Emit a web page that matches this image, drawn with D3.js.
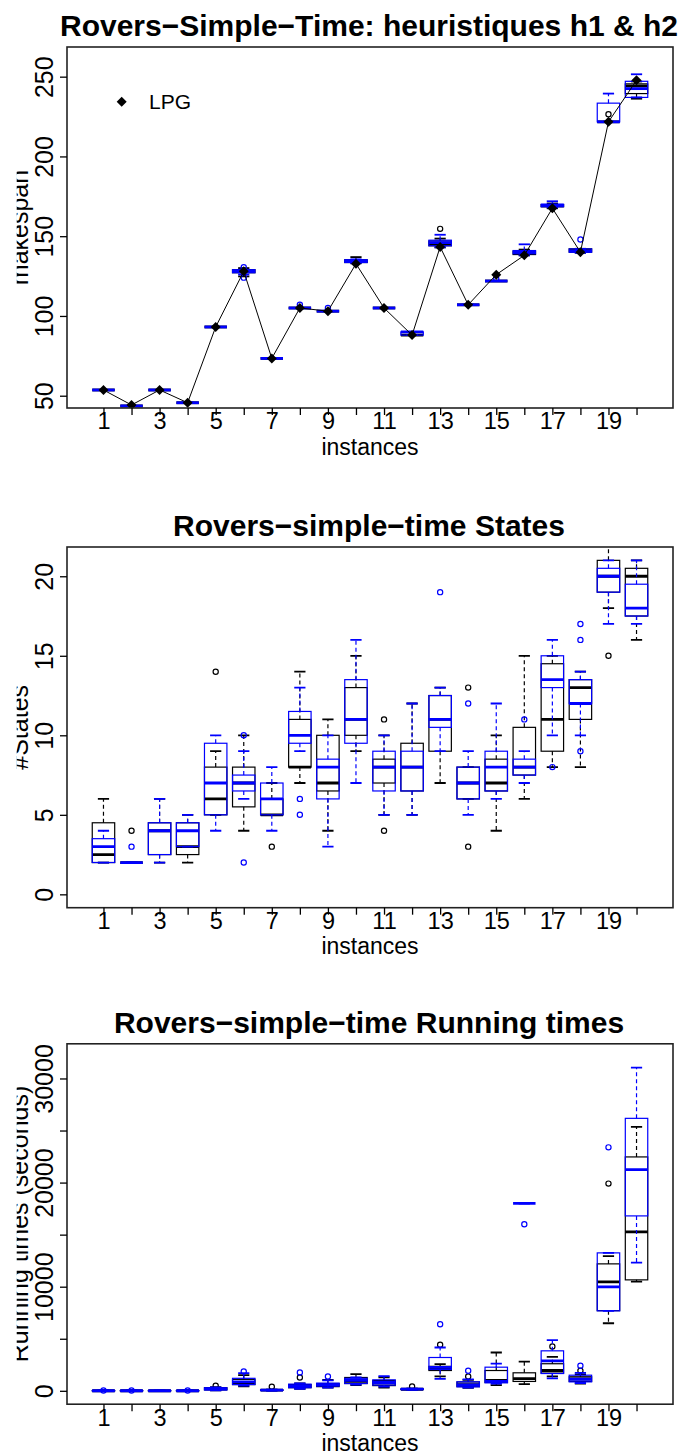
<!DOCTYPE html>
<html><head><meta charset="utf-8">
<script src="https://cdn.jsdelivr.net/npm/d3@7"></script>
<style>
body{margin:0;background:#fff}
svg{display:block}
text{font-family:"Liberation Sans",Arial,Helvetica,sans-serif}
</style>
</head><body>
<svg id="chart" width="682" height="1456"></svg>
<script>
// ---------------- DATA ----------------
const instances = [1,2,3,4,5,6,7,8,9,10,11,12,13,14,15,16,17,18,19,20];
const xTickLabels = ["1","3","5","7","9","11","13","15","17","19"];

// Panel 1 : makespan  [min, q1, median, q3, max]
const makespanH1 = [
  [53.6,53.6,53.6,53.6,53.6],[43.6,43.6,43.6,43.6,43.6],[53.6,53.6,53.6,53.6,53.6],[45.6,45.6,45.6,45.6,45.6],
  [93.1,93.1,93.1,93.1,93.1],[124.8,127.1,128,129,130],[73.4,73.4,73.4,73.4,73.4],[105,105,105,105,105],
  [103,103,103,103,103],[133,133.5,134.5,135.2,136.9],[105,105,105,105,105],[88,88,88,88,88],
  [143,144,145,147,148.5],[107,107,107,107,107],[121.9,121.9,121.9,121.9,121.9],[138,138.5,139.5,140.6,141.6],
  [167.5,168.5,169,169.8,170.5],[139.6,140,141,142.1,142.1],[221.7,221.7,221.7,221.7,221.7],[236.2,239.4,244.2,245.5,247]
];
const makespanH1Out = [[],[],[],[],[],[],[],[],[],[],[],[],[154.6],[],[],[],[],[],[226.5],[]];
const makespanH2 = [
  [53.6,53.6,53.6,53.6,53.6],[43.6,43.6,43.6,43.6,43.6],[53.6,53.6,53.6,53.6,53.6],[45.6,45.6,45.6,45.6,45.6],
  [93.1,93.1,93.1,93.1,93.1],[126,127.1,128,129,129],[73.4,73.4,73.4,73.4,73.4],[105,105,105,105,105],
  [103,103,103,103,103],[133.1,133.5,134.5,135.2,135.5],[105,105,105,105,105],[88,88,90,90,90],
  [143,144,146,147.5,150.9],[107,107,107,107,107],[121.9,121.9,121.9,121.9,121.9],[138,139,140,141,144.9],
  [168,168.5,169.5,170,171.9],[139.6,140,140.5,142,142],[221.7,221.7,221.7,233.4,239.4],[237,237,242.5,247.1,251.5]
];
const makespanH2Out = [[],[],[],[],[],[130.6,124],[],[107],[105],[],[],[],[],[],[123.4],[],[],[147.9],[],[]];
const lpgMakespan = [53.6,44.2,53.6,45.6,93.1,128,73.4,105,103,132.7,105,88,143.3,107,125.9,138,167.5,140,221.7,247.7];
const makespanTicks = [50,100,150,200,250];

// Panel 2 : states
const statesH1 = [
  [2,2,2.5,4.5,6],[2,2,2,2,2],[2,2.5,4,4.5,6],[2,2.5,3,4.5,5],[5,5,6,8,9],[4,5.5,7,8,10],[5,5,5,6,7],
  [7,8,8,11,14],[4,6.5,7,10,11],[9,10,11,13,15],[5,7,8,8.5,10],[5,6.5,8,9.5,12],[7,9,11,12.5,13],
  [6,6,7,8,8],[4,6.5,7,8.5,10],[6,7.5,8,10.5,15],[8,9,11,14.5,15],[8,11,13,13.5,14],[18,19,20,21,22],[16,17.5,20,20.5,21]
];
const statesH1Out = [[],[4],[],[],[14],[],[3],[],[],[],[11,4],[],[],[13,3],[],[],[],[],[15],[]];
const statesH2 = [
  [2,2,3,3.5,4],[2,2,2,2,2],[2,2.5,4,4.5,6],[3,3,4,4.5,5],[4,5,7,9.5,10],[6,6.5,7,7.5,9],[4,5,6,7,8],
  [9,9.5,10,11.5,13],[3,6,8,8.5,10],[7,9.5,11,13.5,16],[5,6.5,8,9,10],[5,6.5,8,9,12],[9,10.5,11,12.5,13],
  [5,6,7,8,9],[6,6.5,8,9,12],[7,7.5,8,8.5,9],[10,13,13.5,15,16],[10,12,12,13.5,14],[17,19,20,20.5,21],[17,17.5,18,19.5,21]
];
const statesH2Out = [[],[3],[],[],[],[10,2],[],[6,5],[],[],[],[],[19],[12],[],[11],[8],[17,16,9],[],[]];
const statesTicks = [0,5,10,15,20];

// Panel 3 : running times (seconds)
const timesH1 = [
  [5,5,8,10,12],[5,6,8,10,12],[5,6,8,10,12],[5,6,8,10,12],[50,100,200,300,350],[420,600,800,1100,1500],
  [30,50,64,80,100],[200,300,450,600,700],[300,400,550,700,1050],[544,700,900,1280,1600],[320,500,750,1000,1300],
  [100,130,150,170,200],[1380,1950,2050,2350,2560],[288,400,600,850,1050],[544,800,1000,1950,3680],
  [634,900,1180,1730,2810],[1380,1700,1950,2600,3260],[700,900,1150,1350,1570],[6490,7700,10464,12192,12928],
  [10496,10656,15264,22464,25344]
];
const timesH1Out = [[],[],[],[],[480],[],[384],[1280],[],[],[],[416],[4420],[1376],[],[],[4250],[1920],[19901],[]];
const timesH2 = [
  [5,6,8,10,12],[5,6,8,10,12],[5,6,8,10,12],[5,6,8,10,12],[50,80,200,280,320],[500,600,850,1200,1690],
  [30,50,64,80,100],[200,300,450,640,700],[300,450,600,736,1000],[600,700,1000,1200,1300],[400,550,800,1050,1408],
  [100,140,160,180,200],[1150,2050,2250,3200,4160],[300,384,560,864,1100],[700,768,900,2270,2620],
  [18010,18010,18010,18010,18010],[1190,1660,2880,3840,4860],[750,860,1110,1500,1730],[7680,7680,9984,13248,13248],
  [12317,16800,21245,26170,31037]
];
const timesH2Out = [[30],[30],[],[30],[],[1850],[],[1760],[1373],[],[],[],[6400],[1920],[],[15994],[],[2400],[23386],[]];
const timesTicks = [0,5000,10000,15000,20000,25000,30000];
const timesTickLabels = ["0","","10000","","20000","","30000"];

// ---------------- DRAWING ----------------
const svg = d3.select("#chart");
const X0 = 67, X1 = 673;
const x = d3.scaleLinear().domain([-0.3, 21.3]).range([X0, X1]);

const panels = [
  {title:"Rovers\u2212Simple\u2212Time: heuristiques h1 & h2", ylab:"makespan", top:47, bottom:408,
   domain:[42.3,268.6], ticks:makespanTicks, labels:makespanTicks.map(String),
   series:[{d:makespanH1,o:makespanH1Out,c:"#000"},{d:makespanH2,o:makespanH2Out,c:"#0000ff"}], lpg:lpgMakespan},
  {title:"Rovers\u2212simple\u2212time States", ylab:"#States", top:547, bottom:907.7,
   domain:[-0.84,21.84], ticks:statesTicks, labels:statesTicks.map(String),
   series:[{d:statesH1,o:statesH1Out,c:"#000"},{d:statesH2,o:statesH2Out,c:"#0000ff"}]},
  {title:"Rovers\u2212simple\u2212time Running times", ylab:"Running times (seconds)", top:1043.8, bottom:1404.2,
   domain:[-1286,33330], ticks:timesTicks, labels:timesTickLabels,
   series:[{d:timesH1,o:timesH1Out,c:"#000"},{d:timesH2,o:timesH2Out,c:"#0000ff"}]}
];

const defs = svg.append("defs");
defs.append("clipPath").attr("id","ylabclip").append("rect")
  .attr("x",16.7).attr("y",0).attr("width",100).attr("height",1456);

panels.forEach((p, pi) => {
  const y = d3.scaleLinear().domain(p.domain).range([p.bottom, p.top]);
  const g = svg.append("g");
  defs.append("clipPath").attr("id","pc"+pi).append("rect")
    .attr("x",X0).attr("y",p.top).attr("width",X1-X0).attr("height",p.bottom-p.top);
  const marks = g.append("g").attr("clip-path",`url(#pc${pi})`);
  const bw = 0.4; // half box width in instance units

  p.series.forEach(s => {
    const sg = marks.append("g").attr("stroke", s.c).attr("fill","none");
    instances.forEach((inst, i) => {
      const st = s.d[i];
      const cx = x(inst);
      const hw = x(inst+bw) - cx;
      const hs = hw/2;
      sg.append("line").attr("x1",cx).attr("x2",cx).attr("y1",y(st[3])).attr("y2",y(st[4]))
        .attr("stroke-width",1.2).attr("stroke-dasharray","4,3");
      sg.append("line").attr("x1",cx).attr("x2",cx).attr("y1",y(st[1])).attr("y2",y(st[0]))
        .attr("stroke-width",1.2).attr("stroke-dasharray","4,3");
      sg.append("line").attr("x1",cx-hs).attr("x2",cx+hs).attr("y1",y(st[4])).attr("y2",y(st[4])).attr("stroke-width",1.8);
      sg.append("line").attr("x1",cx-hs).attr("x2",cx+hs).attr("y1",y(st[0])).attr("y2",y(st[0])).attr("stroke-width",1.8);
      sg.append("rect").attr("x",cx-hw).attr("width",2*hw)
        .attr("y",y(st[3])).attr("height",Math.max(0,y(st[1])-y(st[3]))).attr("stroke-width",1.2);
      sg.append("line").attr("x1",cx-hw).attr("x2",cx+hw).attr("y1",y(st[2])).attr("y2",y(st[2])).attr("stroke-width",2.8);
      s.o[i].forEach(v => {
        sg.append("circle").attr("cx",cx).attr("cy",y(v)).attr("r",2.6).attr("stroke-width",1.2);
      });
    });
  });

  if (p.lpg) {
    const line = d3.line().x((d,i)=>x(instances[i])).y(d=>y(d));
    marks.append("path").datum(p.lpg).attr("d",line).attr("fill","none").attr("stroke","#000").attr("stroke-width",1);
    const dia = (cx,cy,r)=>`M${cx},${cy-r}L${cx+r},${cy}L${cx},${cy+r}L${cx-r},${cy}Z`;
    marks.selectAll("path.lpg").data(p.lpg).enter().append("path").attr("class","lpg")
      .attr("d",(d,i)=>dia(x(instances[i]),y(d),5)).attr("fill","#000");
    g.append("path").attr("d",dia(121.7,101.7,5)).attr("fill","#000");
    g.append("text").attr("x",149).attr("y",109.3).attr("font-size",21).text("LPG");
  }

  g.append("rect").attr("x",X0).attr("y",p.top).attr("width",X1-X0).attr("height",p.bottom-p.top)
    .attr("fill","none").attr("stroke","#222").attr("stroke-width",1.6);

  const xa = g.append("g").attr("transform",`translate(0,${p.bottom})`)
    .call(d3.axisBottom(x).tickValues(instances).tickSize(7)
      .tickFormat(d => xTickLabels.includes(String(d)) ? String(d) : ""));
  xa.select(".domain").remove();
  xa.selectAll("line").attr("stroke","#000").attr("stroke-width",1.3);
  xa.selectAll("text").attr("y",21.4).attr("dy",0).attr("font-size",23.5).attr("fill","#000")
    .attr("font-family","Liberation Sans, Arial, sans-serif");

  const ya = g.append("g").attr("transform",`translate(${X0},0)`)
    .call(d3.axisLeft(y).tickValues(p.ticks).tickSize(7).tickFormat((d,i)=>p.labels[i]));
  ya.select(".domain").remove();
  ya.selectAll("line").attr("stroke","#000").attr("stroke-width",1.3);
  ya.selectAll("text").attr("x",0).attr("y",0).attr("dy",0).attr("text-anchor","middle")
    .attr("transform","translate(-14,0) rotate(-90)").attr("font-size",25).attr("fill","#000")
    .attr("font-family","Liberation Sans, Arial, sans-serif");

  g.append("text").attr("x",370).attr("y",p.bottom+46.6).attr("text-anchor","middle").attr("font-size",23).text("instances");
  g.append("text").attr("x",369).attr("y",p.top-11).attr("text-anchor","middle")
    .attr("font-size",30).attr("font-weight","bold").text(p.title);
  g.append("g").attr("clip-path","url(#ylabclip)").append("text")
    .attr("transform",`translate(28,${(p.top+p.bottom)/2}) rotate(-90)`)
    .attr("text-anchor","middle").attr("font-size",25).text(p.ylab);
});
</script>
</body></html>
